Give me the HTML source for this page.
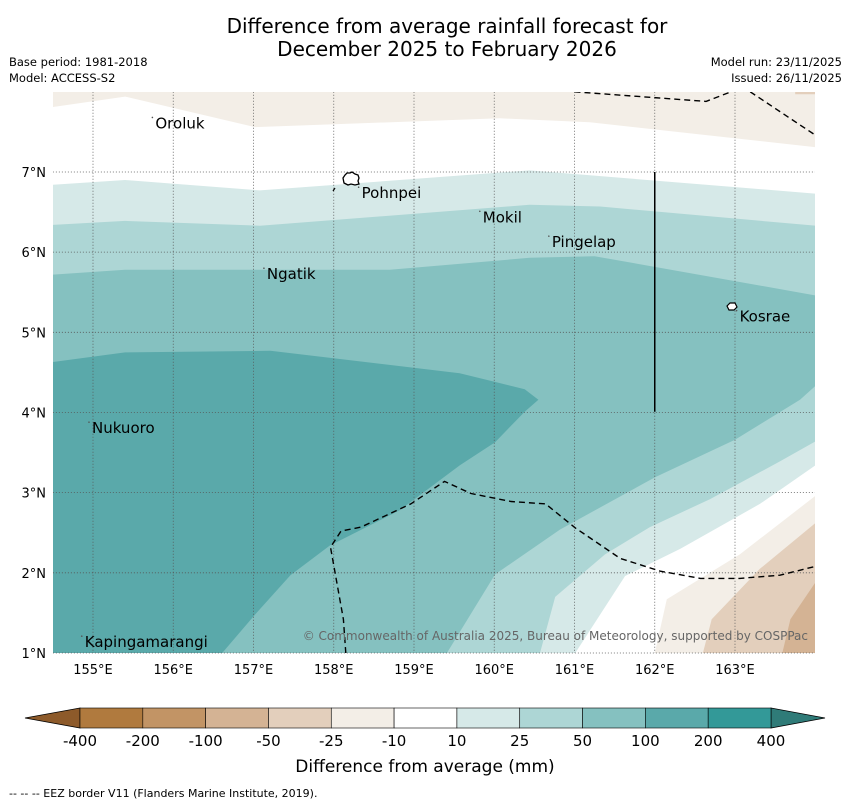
<!DOCTYPE html>
<html><head><meta charset="utf-8"><style>
body{margin:0;background:#fff;width:850px;height:804px;overflow:hidden;font-family:"DejaVu Sans","Liberation Sans",sans-serif}
svg{display:block}
text{font-family:"DejaVu Sans","Liberation Sans",sans-serif}
</style></head><body>
<svg id="chart" width="850" height="804" viewBox="0 0 850 804" xmlns="http://www.w3.org/2000/svg">
<defs><clipPath id="mapclip"><rect x="53" y="92" width="762" height="562"/></clipPath></defs>
<text x="447" y="33" font-size="20" text-anchor="middle">Difference from average rainfall forecast for</text>
<text x="447" y="56" font-size="20" text-anchor="middle">December 2025 to February 2026</text>
<text x="9" y="66" font-size="11.5">Base period: 1981-2018</text>
<text x="9" y="82" font-size="11.5">Model: ACCESS-S2</text>
<text x="842" y="66" font-size="11.5" text-anchor="end">Model run: 23/11/2025</text>
<text x="842" y="82" font-size="11.5" text-anchor="end">Issued: 26/11/2025</text>
<g id="map" clip-path="url(#mapclip)"></g>
<g id="axes"></g>
<g id="colorbar"></g>
<text x="425" y="772" font-size="17" text-anchor="middle">Difference from average (mm)</text>
<text x="9" y="797" font-size="11">--  --  -- EEZ border V11 (Flanders Marine Institute, 2019).</text>
</svg>
<script>
const levels = ["-400","-200","-100","-50","-25","-10","10","25","50","100","200","400"];
const levelColors = ["#b07a3e","#c29465","#d4b394","#e3cfbc","#f3eee7","#ffffff","#d6e9e8","#add6d5","#85c1c0","#5aa9aa","#339998"];
const lonTicks = [155,156,157,158,159,160,161,162,163];
const latTicks = [1,2,3,4,5,6,7];
const topBeigeLine = [[154.5,7.81],[155.4,7.94],[157.02,7.56],[160.07,7.67],[161.19,7.62],[164,7.31]];
const line10 = [[154.5,6.84],[155.4,6.9],[157.08,6.77],[160.44,7.02],[164,6.73]];
const line25 = [[154.5,6.34],[155.4,6.39],[157.08,6.33],[160.44,6.59],[161.32,6.57],[164,6.33]];
const line50 = [[154.5,5.72],[155.4,5.78],[158.7,5.78],[160.44,5.93],[161.25,5.95],[164,5.46]];
const blob100 = [[154.5,4.63],[155.4,4.75],[157.21,4.77],[159.57,4.49],[160.38,4.29],[160.55,4.16],[160.38,4.01],[160.01,3.63],[159.57,3.34],[158.82,2.78],[157.95,2.34],[157.46,1.97],[157.02,1.48],[156.61,1.0],[154.5,1.0]];
const rightLow50 = [[159.41,1.0],[160.01,1.98],[160.82,2.54],[162.0,3.19],[163.0,3.66],[163.81,4.16],[164,4.33]];
const rightLow25 = [[160.57,1.0],[160.76,1.7],[161.38,2.23],[161.94,2.57],[162.69,2.92],[163.56,3.39],[164,3.64]];
const rightLow10 = [[161.01,1.0],[161.63,1.96],[162.32,2.3],[163.31,2.86],[164,3.34]];
const rightLowM10 = [[162.0,1.0],[162.15,1.67],[163.06,2.23],[164,2.96]];
const rightLowM25 = [[162.6,1.0],[162.71,1.42],[163.31,2.05],[164,2.62]];
const rightLowM50 = [[163.59,1.0],[163.69,1.42],[164,1.88]];
const eez = [[158.15,1.0],[158.12,1.42],[157.96,2.32],[158.09,2.52],[158.34,2.57],[158.96,2.86],[159.38,3.14],[159.71,2.99],[160.21,2.89],[160.64,2.86],[161.01,2.56],[161.57,2.18],[162.07,2.02],[162.57,1.93],[163.06,1.93],[163.56,1.97],[164,2.08]];
const eezTop1 = [[161.0,8.0],[162.64,7.88],[162.95,8.0]];
const eezTop2 = [[163.19,8.0],[164,7.46]];
const places = [["Oroluk",155.74,7.63],["Pohnpei",158.31,6.76],["Mokil",159.82,6.46],["Pingelap",160.68,6.15],["Ngatik",157.13,5.75],["Kosrae",163.02,5.22],["Nukuoro",154.95,3.83],["Kapingamarangi",154.86,1.16]];

const X = lon => 93 + (lon - 155) * 80.25;
const Y = lat => 653 - (lat - 1) * 80.17;
const NS = "http://www.w3.org/2000/svg";
function mk(tag, attrs, parent){const e=document.createElementNS(NS,tag);for(const k in attrs)e.setAttribute(k,attrs[k]);parent.appendChild(e);return e;}
const pts = arr => arr.map(p => X(p[0]).toFixed(1)+","+Y(p[1]).toFixed(1)).join(" ");
const map = document.getElementById("map");
const L = X(154.5), R = X(164), T = Y(8), B = Y(1);

let el = mk("rect",{x:L,y:T,width:R-L,height:B-T,fill:levelColors[4]},map);


function below(line, color, name){
  const p = pts(line)+` ${R},${B} ${L},${B}`;
  const e = mk("polygon",{points:p,fill:color},map);
  
  
}
below(topBeigeLine, levelColors[5], 'region-near-average');
below(line10, levelColors[6], 'region-10-25');
below(line25, levelColors[7], 'region-25-50');
below(line50, levelColors[8], 'region-50-100');
function rightOf(line, color, name){
  const p = pts(line)+` ${R},${B}`;
  const e = mk("polygon",{points:p,fill:color},map);
  
  
}
rightOf(rightLow50, levelColors[7], 'region-right-25-50');
rightOf(rightLow25, levelColors[6], 'region-right-10-25');
rightOf(rightLow10, levelColors[5], 'region-right-near-average');
rightOf(rightLowM10, levelColors[4], 'region-right-minus10');
rightOf(rightLowM25, levelColors[3], 'region-right-minus25');
rightOf(rightLowM50, levelColors[2], 'region-right-minus50');
el = mk("polygon",{points:pts(blob100),fill:levelColors[9]},map);


el = mk("polygon",{points:`${X(163.75)},${T} ${R},${T} ${R},${Y(7.97)} ${X(163.75)},${Y(7.97)}`,fill:levelColors[3]},map);



lonTicks.forEach(l=>{const g=mk("line",{x1:X(l),x2:X(l),y1:T,y2:B,stroke:"#555",'stroke-width':0.8,'stroke-dasharray':"1,2"},map);

});
latTicks.forEach(l=>{const g=mk("line",{x1:L,x2:R,y1:Y(l),y2:Y(l),stroke:"#555",'stroke-width':0.8,'stroke-dasharray':"1,2"},map);

});

[eez,eezTop1,eezTop2].forEach(line=>{const e=mk("polyline",{points:pts(line),fill:"none",stroke:"#000",'stroke-width':1.4,'stroke-dasharray':"6,4"},map);

});
el = mk("line",{x1:X(162),x2:X(162),y1:Y(7),y2:Y(4.01),stroke:"#000",'stroke-width':1.5},map);


el = mk("line",{x1:333,y1:191,x2:335,y2:188,stroke:"#000",'stroke-width':1.2},map);



el = mk("path",{d:"M343,178 l2,-3 l2,-2 l3,0 l2,-1 l3,2 l3,1 l1,3 l-1,3 l1,3 l-4,1 l-4,-1 l-3,1 l-4,-2 z",fill:"#fff",stroke:"#000",'stroke-width':1.3},map);


el = mk("path",{d:"M727,306 l3,-3 l5,0 l2,4 l-3,3 l-5,0 z",fill:"#fff",stroke:"#000",'stroke-width':1.2},map);



places.forEach(p=>{const t=mk("text",{x:X(p[1])+3,y:Y(p[2])+7,'font-size':15},map);t.textContent=p[0];


const d=mk("circle",{cx:X(p[1]),cy:Y(p[2])-4,r:0.8,fill:"#555"},map);

});

el = mk("text",{x:808,y:640,'font-size':12,fill:"#666",'text-anchor':"end"},map);
el.textContent="© Commonwealth of Australia 2025, Bureau of Meteorology, supported by COSPPac";



const axes = document.getElementById("axes");
lonTicks.forEach(l=>{const t=mk("text",{x:X(l),y:674,'font-size':13,'text-anchor':"middle"},axes);t.textContent=l+"°E";

});
latTicks.forEach(l=>{const t=mk("text",{x:46,y:Y(l)+5,'font-size':13,'text-anchor':"end"},axes);t.textContent=l+"°N";

});

const cb = document.getElementById("colorbar");
const cx0=80, cx1=771, cy=708, ch=20, w=(cx1-cx0)/levelColors.length;
el = mk("polygon",{points:`${cx0},${cy} 25,${cy+ch/2} ${cx0},${cy+ch}`,fill:"#8d5a2a",stroke:"#000",'stroke-width':0.8},cb);


el = mk("polygon",{points:`${cx1},${cy} 825,${cy+ch/2} ${cx1},${cy+ch}`,fill:"#2f7b78",stroke:"#000",'stroke-width':0.8},cb);


levelColors.forEach((c,i)=>{const r=mk("rect",{x:cx0+i*w,y:cy,width:w,height:ch,fill:c,stroke:"#000",'stroke-width':0.6},cb);

});
levels.forEach((lv,i)=>{const t=mk("text",{x:cx0+i*w,y:746,'font-size':15,'text-anchor':"middle"},cb);t.textContent=lv;

});
</script>
</body></html>
